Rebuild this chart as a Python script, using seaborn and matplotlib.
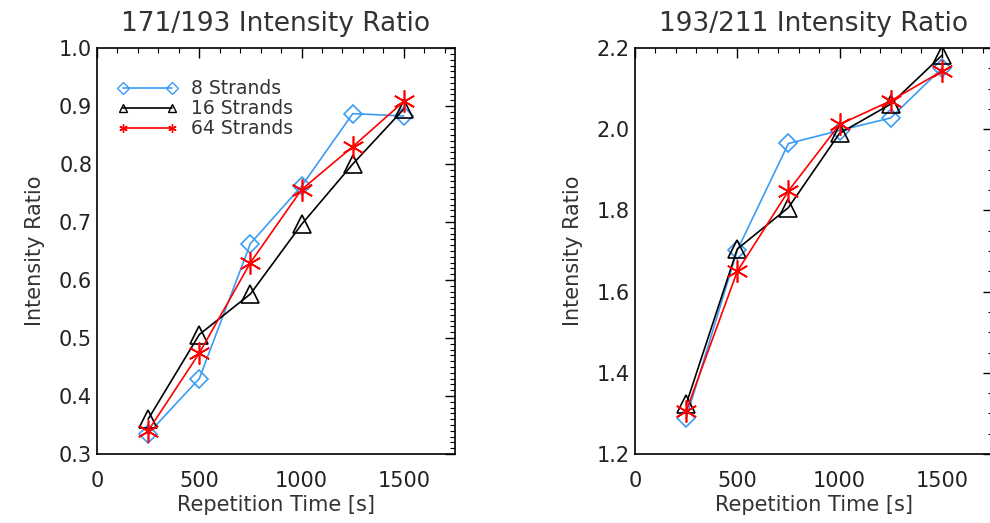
import numpy as np
import pandas as pd
import seaborn as sns
import matplotlib
matplotlib.use('Agg')
import matplotlib.pyplot as plt
from matplotlib.ticker import MultipleLocator

# repetition times and ratios
rep_time = [250, 500, 750, 1000, 1250, 1500]
strands = ['8 Strands', '16 Strands', '64 Strands']

r171_193_8 = [0.335, 0.430, 0.663, 0.762, 0.887, 0.883]
r171_193_16 = [0.360, 0.506, 0.576, 0.696, 0.800, 0.895]
r171_193_64 = [0.340, 0.474, 0.630, 0.756, 0.830, 0.908]

r193_211_8 = [1.288, 1.702, 1.965, 1.997, 2.028, 2.150]
r193_211_16 = [1.322, 1.705, 1.807, 1.990, 2.062, 2.182]
r193_211_64 = [1.305, 1.650, 1.848, 2.012, 2.070, 2.143]

sns.set_style('white')
plt.rcParams['font.family'] = ['DejaVu Sans']

colors = {'8 Strands': '#3b9cf5', '16 Strands': 'black', '64 Strands': 'red'}
markers = {'8 Strands': 'D', '16 Strands': '^', '64 Strands': (6, 2, 0)}
msizes = {'8 Strands': 9, '16 Strands': 13, '64 Strands': 16}

def make_df(a, b, c):
    rows = []
    for name, vals in zip(strands, [a, b, c]):
        for t, v in zip(rep_time, vals):
            rows.append({'time': t, 'ratio': v, 'strands': name})
    return pd.DataFrame(rows)

df1 = make_df(r171_193_8, r171_193_16, r171_193_64)
df2 = make_df(r193_211_8, r193_211_16, r193_211_64)

fig = plt.figure(figsize=(9.9, 5.23), dpi=100)
ax1 = fig.add_axes([0.098, 0.132, 0.3616, 0.776])
ax2 = fig.add_axes([0.6414, 0.132, 0.3616, 0.776])

txt = '#333333'

for ax, df, title, ylim, major, minor in [
        (ax1, df1, '171/193 Intensity Ratio', (0.3, 1.0), 0.1, 0.01),
        (ax2, df2, '193/211 Intensity Ratio', (1.2, 2.2), 0.2, 0.05)]:
    for name in strands:
        sub = df[df['strands'] == name]
        sns.lineplot(data=sub, x='time', y='ratio', ax=ax, color=colors[name],
                     linewidth=1.2, label=name, legend=False)
        ax.plot(sub['time'], sub['ratio'], linestyle='none',
                marker=markers[name], markersize=msizes[name],
                markerfacecolor='none', markeredgecolor=colors[name],
                markeredgewidth=1.2)
    ax.set_xlim(0, 1750)
    ax.set_ylim(*ylim)
    ax.xaxis.set_major_locator(MultipleLocator(500))
    ax.xaxis.set_minor_locator(MultipleLocator(100))
    ax.yaxis.set_major_locator(MultipleLocator(major))
    ax.yaxis.set_minor_locator(MultipleLocator(minor))
    ax.tick_params(which='both', direction='in', top=True, right=True,
                   labelsize=15, colors='black', labelcolor='#222222')
    ax.tick_params(which='major', length=7, width=1)
    ax.tick_params(which='minor', length=3.5, width=0.8)
    ax.tick_params(axis='x', pad=12)
    ax.set_xticks([0, 500, 1000, 1500])
    ax.set_yticklabels([f'{v:.1f}' for v in ax.get_yticks()])
    ax.set_title(title, fontsize=19, color=txt, pad=12)
    ax.set_xlabel('Repetition Time [s]', fontsize=15, color=txt, labelpad=3)
    ax.set_ylabel('Intensity Ratio', fontsize=15, color=txt, labelpad=10)
    for s in ax.spines.values():
        s.set_color('black')
        s.set_linewidth(1.2)

# legend in IDL style: short line with a small marker at each end
from matplotlib.lines import Line2D
handles = [Line2D([], [], color=colors[n], marker=markers[n], markersize=6,
                  markerfacecolor='none', markeredgecolor=colors[n], linewidth=1.2)
           for n in strands]
leg = ax1.legend(handles, strands, loc='upper left', frameon=False, numpoints=2,
                 fontsize=13.5, handlelength=3.2, labelspacing=0.05,
                 bbox_to_anchor=(0.01, 0.965), handletextpad=0.7)
for t in leg.get_texts():
    t.set_color(txt)

fig.savefig('out.png', dpi=100)
